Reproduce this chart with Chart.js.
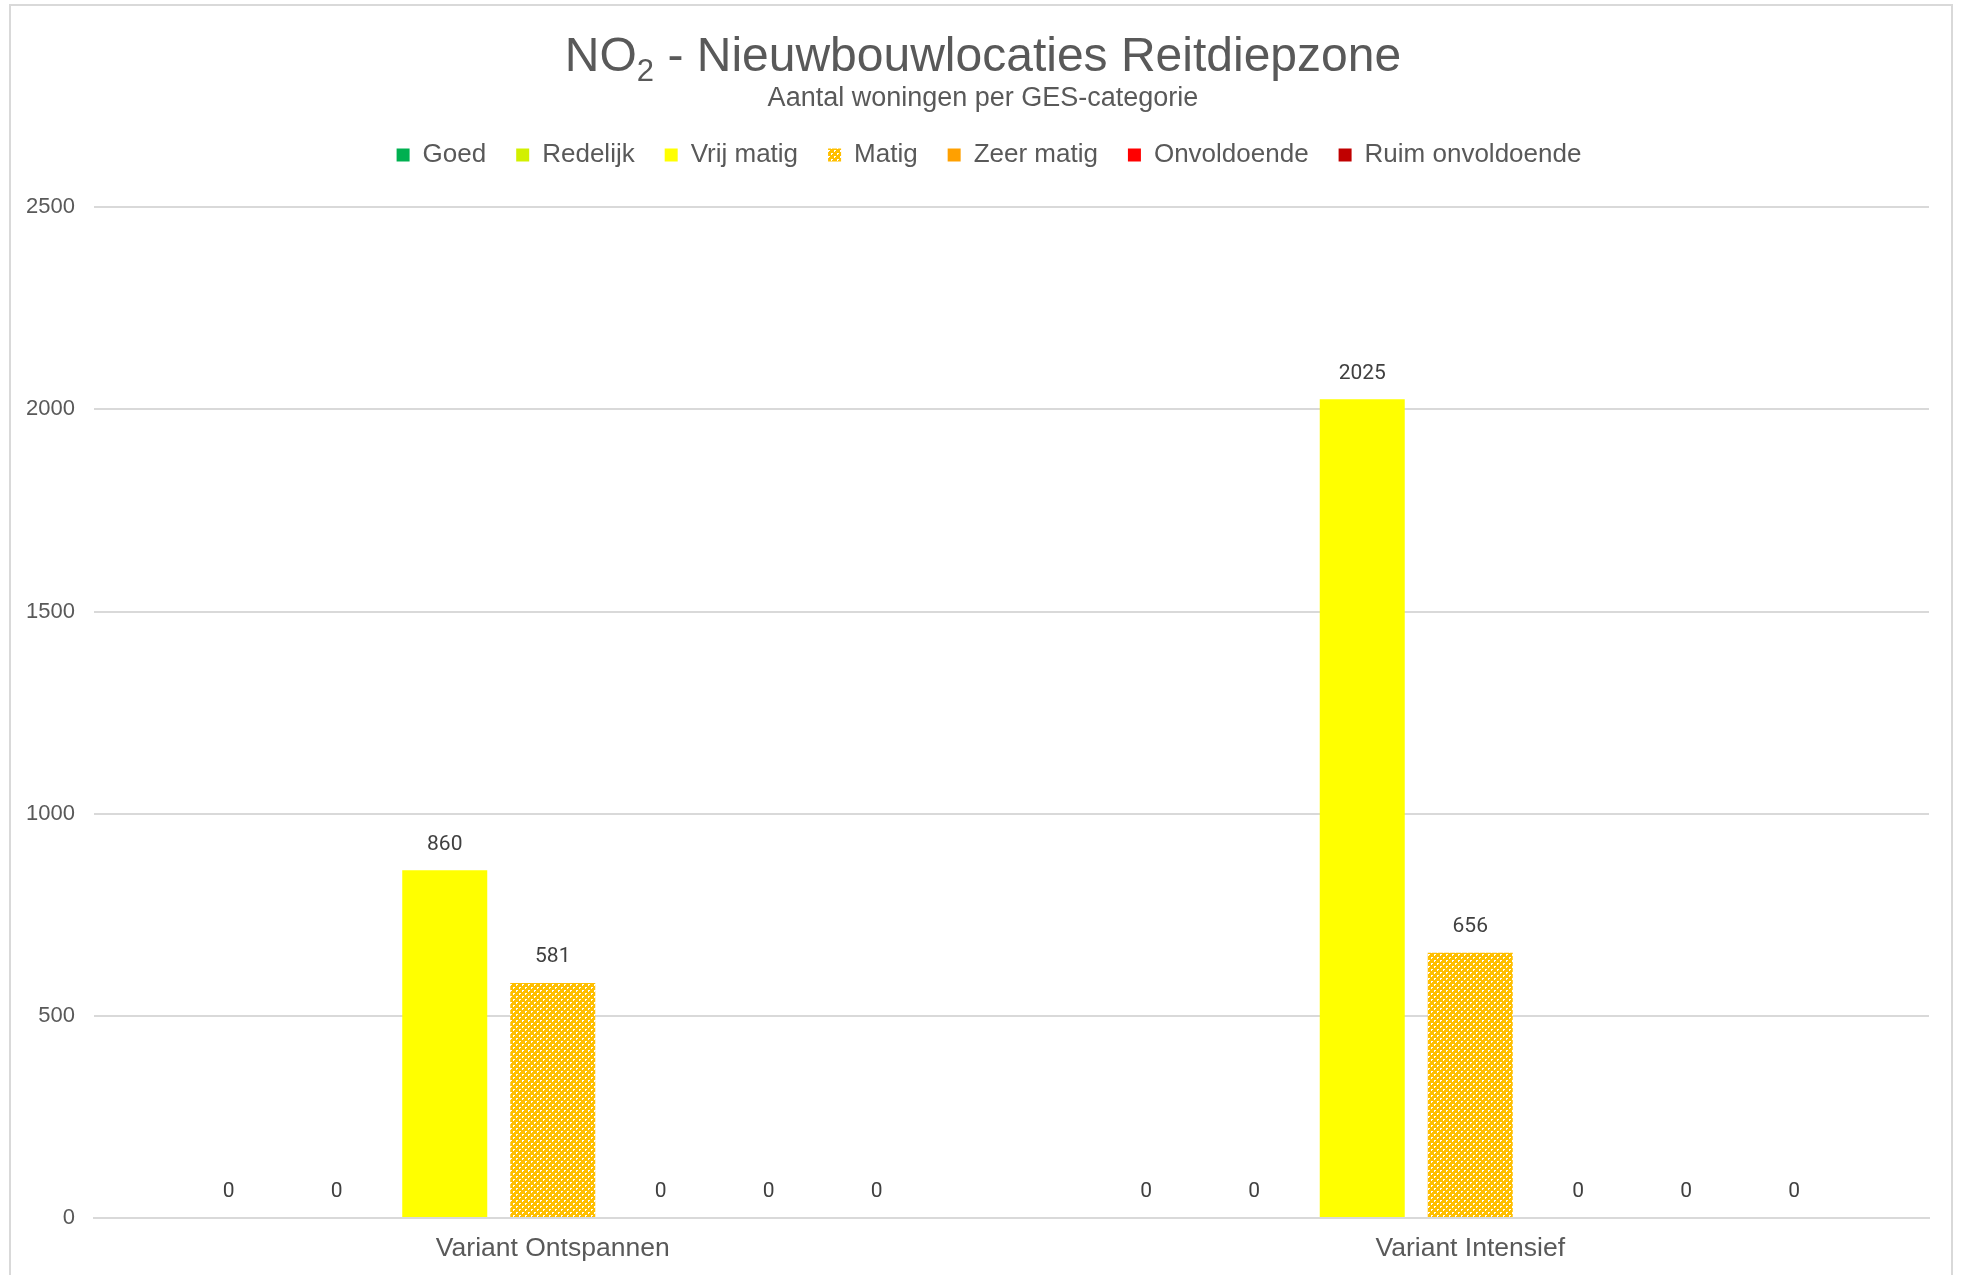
<!DOCTYPE html>
<html>
<head>
<meta charset="utf-8">
<script src="https://cdn.jsdelivr.net/npm/chart.js@4.4.1/dist/chart.umd.min.js"></script>
<style>
    html, body { margin: 0; padding: 0; background: #ffffff; }
    #wrap { width: 1966px; height: 1275px; position: relative; overflow: hidden; }
</style>
</head>
<body>
<div id="wrap"><canvas id="chart" width="1966" height="1275"></canvas></div>
<script>
// Data
const categories = ['Variant Ontspannen', 'Variant Intensief'];
const seriesNames = ['Goed', 'Redelijk', 'Vrij matig', 'Matig', 'Zeer matig', 'Onvoldoende', 'Ruim onvoldoende'];
const goed = [0, 0];
const redelijk = [0, 0];
const vrijMatig = [860, 2025];
const matig = [581, 656];
const zeerMatig = [0, 0];
const onvoldoende = [0, 0];
const ruimOnvoldoende = [0, 0];
const yTicks = [0, 500, 1000, 1500, 2000, 2500];

const textGrey = '#595959';

// Hatched fill for "Matig"
function makePattern() {
    const c = document.createElement('canvas');
    c.width = 6;
    c.height = 6;
    const p = c.getContext('2d');
    p.fillStyle = '#FFBF00';
    p.fillRect(0, 0, 6, 6);
    p.fillStyle = '#ffffff';
    const pts = [[0, 0], [1, 0], [0, 1], [3, 3], [4, 3], [3, 4]];
    pts.forEach(function (pt) { p.fillRect(pt[0], pt[1], 1, 1); });
    return p.createPattern(c, 'repeat');
}
const matigFill = makePattern();

const seriesValues = [goed, redelijk, vrijMatig, matig, zeerMatig, onvoldoende, ruimOnvoldoende];
const seriesColors = ['#00B050', '#D2F000', '#FFFF00', matigFill, '#FFA000', '#FF0000', '#C00000'];

// Title (with subscript), subtitle and outer border
const decorPlugin = {
    id: 'decor',
    beforeDraw: function (chart) {
        const ctx = chart.ctx;
        ctx.save();
        ctx.fillStyle = '#ffffff';
        ctx.fillRect(0, 0, chart.width, chart.height);
        ctx.strokeStyle = '#d9d9d9';
        ctx.lineWidth = 2;
        ctx.strokeRect(10, 5, 1942, 1300);

        const big = '48px "Liberation Sans", Arial, sans-serif';
        const small = '31px "Liberation Sans", Arial, sans-serif';
        const partA = 'NO';
        const partB = '2';
        const partC = ' - Nieuwbouwlocaties Reitdiepzone';
        ctx.font = big;
        const wA = ctx.measureText(partA).width;
        const wC = ctx.measureText(partC).width;
        ctx.font = small;
        const wB = ctx.measureText(partB).width;
        let x = chart.width / 2 - (wA + wB + wC) / 2;
        const base = 71;
        ctx.fillStyle = textGrey;
        ctx.textBaseline = 'alphabetic';
        ctx.textAlign = 'left';
        ctx.font = big;
        ctx.fillText(partA, x, base);
        x += wA;
        ctx.font = small;
        ctx.fillText(partB, x, base + 10);
        x += wB;
        ctx.font = big;
        ctx.fillText(partC, x, base);

        ctx.font = '27px "Liberation Sans", Arial, sans-serif';
        ctx.textAlign = 'center';
        ctx.fillText('Aantal woningen per GES-categorie', chart.width / 2, 106);
        ctx.restore();
    }
};

// Value labels above the bars
const valueLabels = {
    id: 'valueLabels',
    afterDatasetsDraw: function (chart) {
        const ctx = chart.ctx;
        ctx.save();
        ctx.font = '21px Roboto, "Liberation Sans", sans-serif';
        ctx.fillStyle = '#404040';
        ctx.textAlign = 'center';
        ctx.textBaseline = 'middle';
        chart.data.datasets.forEach(function (ds, i) {
            const meta = chart.getDatasetMeta(i);
            meta.data.forEach(function (bar, j) {
                ctx.fillText(String(ds.data[j]), bar.x, bar.y - 26);
            });
        });
        ctx.restore();
    }
};

const ctx = document.getElementById('chart').getContext('2d');
const chart = new Chart(ctx, {
    type: 'bar',
    data: {
        labels: categories,
        datasets: seriesNames.map(function (name, i) {
            return {
                label: name,
                data: seriesValues[i],
                backgroundColor: seriesColors[i],
                borderWidth: 0,
                categoryPercentage: 0.824,
                barPercentage: 0.787
            };
        })
    },
    options: {
        responsive: false,
        animation: false,
        devicePixelRatio: 1,
        layout: {
            padding: { top: 112, right: 0, bottom: 0, left: 12 }
        },
        plugins: {
            // empty title used as a spacer between legend and plot
            title: {
                display: true,
                text: '',
                weight: 500,
                font: { size: 1 },
                padding: { top: 0, bottom: 28 }
            },
            tooltip: { enabled: false },
            legend: {
                display: true,
                position: 'top',
                labels: {
                    font: { family: '"Liberation Sans", Arial, sans-serif', size: 26 },
                    color: textGrey,
                    boxWidth: 13,
                    boxHeight: 13,
                    padding: 30
                }
            }
        },
        scales: {
            x: {
                grid: { display: false, drawTicks: false },
                border: { display: true, color: '#d9d9d9', width: 2 },
                ticks: {
                    font: { family: '"Liberation Sans", Arial, sans-serif', size: 26.5 },
                    color: textGrey,
                    padding: 15
                },
                afterFit: function (scale) { scale.height = 57; }
            },
            y: {
                min: 0,
                max: 2500,
                grid: { color: '#d9d9d9', lineWidth: 2, drawTicks: false },
                border: { display: false },
                afterBuildTicks: function (scale) {
                    scale.ticks = yTicks.map(function (v) { return { value: v }; });
                },
                ticks: {
                    font: { family: '"Liberation Sans", Arial, sans-serif', size: 22 },
                    color: textGrey,
                    padding: 19,
                    callback: function (v) { return String(v); }
                },
                afterFit: function (scale) { scale.width = 82; }
            },
            // empty right-hand box keeping the plot clear of the right edge
            yRight: {
                position: 'right',
                min: 0,
                max: 2500,
                grid: { display: false, drawTicks: false },
                border: { display: false },
                ticks: { display: false },
                afterFit: function (scale) { scale.width = 37; }
            }
        }
    },
    plugins: [decorPlugin, valueLabels]
});
</script>
</body>
</html>
